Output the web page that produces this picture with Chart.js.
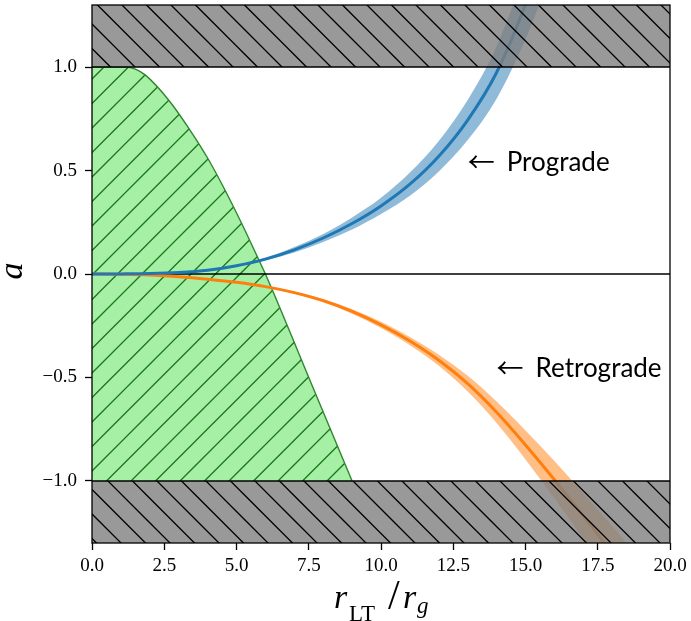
<!DOCTYPE html>
<html>
<head>
<meta charset="utf-8">
<script src="https://cdn.jsdelivr.net/npm/chart.js@4.4.0/dist/chart.umd.min.js"></script>
<style>
  html, body { margin: 0; padding: 0; background: #fff; }
</style>
</head>
<body>
<canvas id="chart" width="691" height="621"></canvas>
<script>
// ticks
const xTicks = [0, 2.5, 5, 7.5, 10, 12.5, 15, 17.5, 20];
const yTicks = [-1, -0.5, 0, 0.5, 1];

// forbidden |a| > 1 zones
const edgeX = [0, 20];
const limitTop = [1, 1];
const limitBottom = [-1, -1];
const zeroA = [0, 0];

// green excluded zone boundary
const zoneX = [0, 1.2, 1.5, 1.85, 2.65, 3.35, 4.04, 4.6, 5.18, 5.75, 6.0, 7.5, 9.0];
const zoneA = [1, 1, 0.99, 0.961, 0.841, 0.704, 0.551, 0.406, 0.244, 0.075, 0, -0.5, -1];

// prograde
const proX   = [0, 1, 2, 3, 4, 5, 6, 7, 8, 9, 10, 11, 12, 13, 14, 15, 16];
const proMid = [0, 0.0005, 0.002, 0.007, 0.018, 0.04, 0.072, 0.117, 0.174, 0.244, 0.329, 0.434, 0.569, 0.744, 0.974, 1.304, 1.724];
const proHi  = [0, 0.00055, 0.0022, 0.0077, 0.0198, 0.044, 0.079, 0.13, 0.193, 0.273, 0.368, 0.49, 0.643, 0.841, 1.101, 1.474, 1.948];
const proLo  = [0, 0.00045, 0.0018, 0.0063, 0.0162, 0.036, 0.065, 0.104, 0.155, 0.215, 0.29, 0.378, 0.495, 0.647, 0.847, 1.134, 1.5];

// retrograde
const retX   = [0, 1, 2, 3, 4, 5, 6, 7, 8, 9, 10, 11, 12, 13, 14, 15, 16, 17, 18, 18.5];
const retMid = [0, -0.001, -0.005, -0.013, -0.025, -0.04, -0.061, -0.09, -0.129, -0.181, -0.246, -0.324, -0.417, -0.53, -0.668, -0.826, -0.994, -1.169, -1.349, -1.44];
const retHi  = [0, 0, -0.004, -0.011, -0.023, -0.038, -0.058, -0.085, -0.121, -0.17, -0.231, -0.304, -0.39, -0.492, -0.616, -0.756, -0.904, -1.059, -1.219, -1.3];
const retLo  = [0, -0.002, -0.006, -0.015, -0.027, -0.042, -0.064, -0.095, -0.137, -0.192, -0.261, -0.344, -0.444, -0.568, -0.72, -0.896, -1.084, -1.279, -1.479, -1.58];

const notes = [
  { text: 'Prograde', x: 13, y: 0.5 },
  { text: 'Retrograde', x: 14, y: -0.5 }
];

const pts = (xs, ys) => xs.map((x, i) => ({ x: x, y: ys[i] }));

function hatch(bg, ink, slope, phase) {
  const T = 49, P = 24.5;
  const c = document.createElement('canvas');
  c.width = T; c.height = T;
  const g = c.getContext('2d');
  g.fillStyle = bg;
  g.fillRect(0, 0, T, T);
  g.strokeStyle = ink;
  g.lineWidth = 1.3;
  g.beginPath();
  for (let k = -3; k <= 6; k++) {
    const c0 = phase + k * P;
    if (slope === '\\') {
      g.moveTo(c0 - 6, -6); g.lineTo(c0 + T + 6, T + 6);
    } else {
      g.moveTo(c0 + 6, -6); g.lineTo(c0 - T - 6, T + 6);
    }
  }
  g.stroke();
  return g.createPattern(c, 'repeat');
}

const grayHatch = hatch('rgba(128,128,128,0.8)', '#000', '\\', 19);
const greenHatch = hatch('#a6f0a6', '#1a761a', '/', 24);

const line = (data, color, width, order, extra) => Object.assign({
  data: data, borderColor: color, borderWidth: width, pointRadius: 0,
  fill: false, order: order, clip: 0, cubicInterpolationMode: 'monotone'
}, extra || {});

const extras = {
  id: 'extras',
  afterDatasetsDraw(chart) {
    const { ctx, chartArea: a, scales: { x, y } } = chart;
    ctx.save();
    ctx.strokeStyle = '#000';
    ctx.lineWidth = 1.3;
    ctx.strokeRect(a.left, a.top, a.right - a.left, a.bottom - a.top);
    ctx.fillStyle = '#000';
    ctx.textBaseline = 'alphabetic';
    ctx.textAlign = 'left';
    notes.forEach(n => {
      const px = x.getPixelForValue(n.x), py = y.getPixelForValue(n.y);
      ctx.font = '27px "Noto Sans CJK SC"';
      ctx.fillText('\u2190', px, py + 1);
      ctx.font = '26px Lato';
      ctx.fillText(n.text, px + 39, py);
    });
    ctx.restore();
  },
  afterDraw(chart) {
    const ctx = chart.ctx;
    ctx.save();
    ctx.fillStyle = '#000';
    ctx.textBaseline = 'alphabetic';
    // y title
    ctx.translate(22, 271);
    ctx.rotate(-Math.PI / 2);
    ctx.textAlign = 'center';
    ctx.font = 'italic 34px "Liberation Serif"';
    ctx.fillText('a', 0, 0);
    ctx.restore();
    // x title
    ctx.save();
    ctx.fillStyle = '#000';
    ctx.textAlign = 'left';
    ctx.textBaseline = 'alphabetic';
    ctx.font = 'italic 34px "Liberation Serif"';
    ctx.fillText('r', 334, 608);
    ctx.font = '23px "Liberation Serif"';
    ctx.fillText('LT', 349, 621);
    ctx.font = '42px "Liberation Serif"';
    ctx.fillText('/', 388, 609);
    ctx.font = 'italic 34px "Liberation Serif"';
    ctx.fillText('r', 403, 608);
    ctx.font = 'italic 23px "Liberation Serif"';
    ctx.fillText('g', 417, 613);
    ctx.restore();
  }
};

const tickFont = { family: 'Liberation Serif', size: 19 };

new Chart(document.getElementById('chart'), {
  type: 'line',
  data: {
    datasets: [
      line(pts(zoneX, zoneA), '#2e872e', 1.4, 10, { fill: { value: -1 }, backgroundColor: greenHatch }),
      line(pts(edgeX, zeroA), '#000', 1.5, 9),
      line(pts(proX, proLo), 'rgba(0,0,0,0)', 0, 8),
      line(pts(proX, proHi), 'rgba(0,0,0,0)', 0, 8, { fill: 2, backgroundColor: 'rgba(31,119,180,0.5)' }),
      line(pts(retX, retLo), 'rgba(0,0,0,0)', 0, 8),
      line(pts(retX, retHi), 'rgba(0,0,0,0)', 0, 8, { fill: 4, backgroundColor: 'rgba(255,127,14,0.5)' }),
      line(pts(proX, proMid), '#1f77b4', 3, 7),
      line(pts(retX, retMid), '#ff7f0e', 3, 7),
      line(pts(edgeX, limitTop), '#000', 1.5, 1, { fill: 'end', backgroundColor: grayHatch }),
      line(pts(edgeX, limitBottom), '#000', 1.5, 1, { fill: 'start', backgroundColor: grayHatch })
    ]
  },
  options: {
    responsive: false,
    animation: false,
    devicePixelRatio: 1,
    layout: { padding: { top: 5, right: 21, left: 0, bottom: 0 } },
    plugins: { legend: { display: false }, tooltip: { enabled: false } },
    scales: {
      x: {
        type: 'linear', min: 0, max: 20,
        afterBuildTicks: s => { s.ticks = xTicks.map(v => ({ value: v })); },
        afterFit: s => { s.height = 78; s.paddingLeft = 0; s.paddingRight = 0; },
        grid: { drawOnChartArea: false, tickLength: 7, tickColor: '#000', tickWidth: 1.3 },
        border: { display: false },
        ticks: { color: '#000', font: tickFont, padding: 5, maxRotation: 0, autoSkip: false,
          callback: v => v.toFixed(1) }
      },
      y: {
        type: 'linear', min: -1.3, max: 1.3,
        afterBuildTicks: s => { s.ticks = yTicks.map(v => ({ value: v })); },
        afterFit: s => { s.width = 92; s.paddingTop = 0; s.paddingBottom = 0; },
        grid: { drawOnChartArea: false, tickLength: 7, tickColor: '#000', tickWidth: 1.3 },
        border: { display: false },
        ticks: { color: '#000', font: tickFont, padding: 8, autoSkip: false,
          callback: v => v.toFixed(1).replace('-', '\u2212') }
      }
    }
  },
  plugins: [extras]
});
</script>
</body>
</html>
